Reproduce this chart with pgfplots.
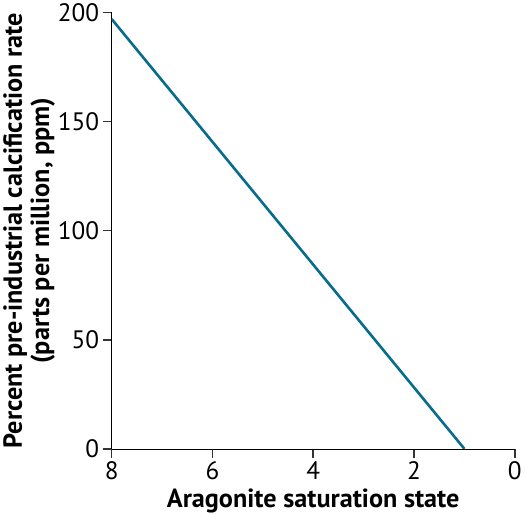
\documentclass[border=0pt]{standalone}
\usepackage{pgfplots}
\pgfplotsset{compat=1.18}
\usepackage{fontspec}
\setmainfont{PT Sans}
\definecolor{lineblue}{RGB}{8,108,140}
\begin{document}
\begin{tikzpicture}
\begin{axis}[
  scale only axis,
  width=400pt, height=433pt,
  xmin=0, xmax=8, ymin=0, ymax=200,
  x dir=reverse,
  axis x line*=bottom, axis y line*=left,
  tick align=outside,
  major tick style={black!80, line width=1.6pt},
  major tick length=9pt,
  xtick={0,2,4,6,8},
  ytick={0,50,100,150,200},
  x tick label style={font=\fontsize{25}{28}\selectfont},
  y tick label style={font=\fontsize{25}{28}\selectfont},
  xlabel={\textbf{Aragonite saturation state}},
  ylabel={\textbf{Percent pre-industrial calcification rate}\\\textbf{(parts per million, ppm)}},
  every axis x label/.append style={font=\fontsize{26}{27}\selectfont, align=center, yshift=-2pt},
  every axis y label/.append style={font=\fontsize{26}{27}\selectfont, align=center, yshift=-4pt},
  /pgf/number format/assume math mode=true,
]
\addplot[lineblue, line width=2.6pt] coordinates {(8,197) (1,0)};
\end{axis}
\end{tikzpicture}
\end{document}
